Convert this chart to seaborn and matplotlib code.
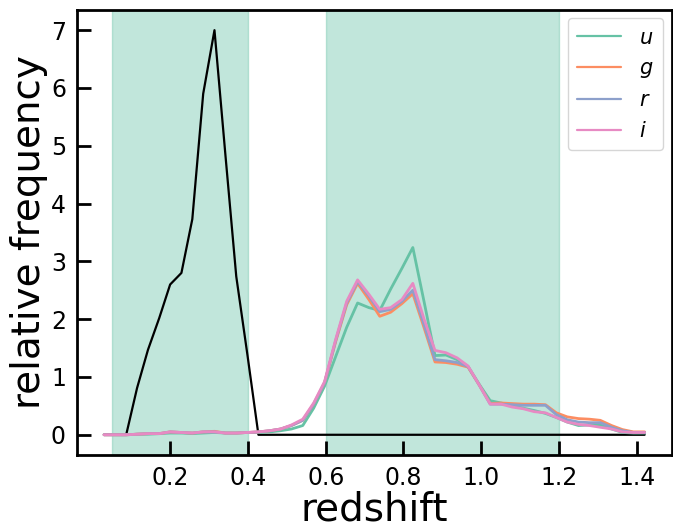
import numpy as np
import pandas as pd
import matplotlib
matplotlib.use("Agg")
import matplotlib.pyplot as plt
import seaborn as sns

# redshift bin centres
redshift = [0.030, 0.058, 0.087, 0.115, 0.143, 0.172, 0.200, 0.229, 0.257, 0.285,
            0.314, 0.342, 0.370, 0.399, 0.427, 0.456, 0.484, 0.512, 0.541, 0.569,
            0.597, 0.626, 0.654, 0.682, 0.711, 0.739, 0.767, 0.796, 0.824, 0.853,
            0.881, 0.909, 0.938, 0.966, 0.994, 1.023, 1.051, 1.079, 1.108, 1.136,
            1.165, 1.193, 1.221, 1.250, 1.278, 1.306, 1.335, 1.363, 1.391, 1.420]

# reference (black) distribution
ref = [0.0, 0.0, 0.0, 0.81, 1.47, 2.02, 2.60, 2.80, 3.73, 5.90,
       7.00, 4.85, 2.74, 1.37, 0.0, 0.0, 0.0, 0.0, 0.0, 0.0,
       0.0, 0.0, 0.0, 0.0, 0.0, 0.0, 0.0, 0.0, 0.0, 0.0,
       0.0, 0.0, 0.0, 0.0, 0.0, 0.0, 0.0, 0.0, 0.0, 0.0,
       0.0, 0.0, 0.0, 0.0, 0.0, 0.0, 0.0, 0.0, 0.0, 0.0]

u = [0.0, 0.0, 0.0, 0.01, 0.01, 0.02, 0.03, 0.03, 0.02, 0.03,
     0.04, 0.03, 0.03, 0.04, 0.04, 0.05, 0.07, 0.10, 0.16, 0.46,
     0.84, 1.36, 1.86, 2.28, 2.20, 2.15, 2.52, 2.88, 3.24, 2.30,
     1.37, 1.38, 1.30, 1.18, 0.88, 0.59, 0.55, 0.50, 0.46, 0.42,
     0.37, 0.30, 0.22, 0.16, 0.17, 0.17, 0.10, 0.04, 0.03, 0.03]

g = [0.0, 0.0, 0.0, 0.01, 0.02, 0.02, 0.05, 0.04, 0.03, 0.05,
     0.06, 0.03, 0.03, 0.04, 0.05, 0.07, 0.10, 0.16, 0.25, 0.53,
     0.90, 1.62, 2.25, 2.62, 2.34, 2.05, 2.12, 2.27, 2.44, 1.85,
     1.26, 1.25, 1.22, 1.17, 0.87, 0.54, 0.55, 0.54, 0.53, 0.53,
     0.52, 0.38, 0.31, 0.28, 0.27, 0.25, 0.16, 0.09, 0.05, 0.05]

r = [0.0, 0.0, 0.0, 0.01, 0.02, 0.02, 0.05, 0.04, 0.03, 0.05,
     0.05, 0.03, 0.03, 0.04, 0.05, 0.07, 0.10, 0.16, 0.25, 0.53,
     0.90, 1.64, 2.28, 2.65, 2.40, 2.13, 2.17, 2.31, 2.50, 1.90,
     1.30, 1.28, 1.25, 1.18, 0.87, 0.53, 0.53, 0.52, 0.51, 0.51,
     0.51, 0.35, 0.26, 0.22, 0.21, 0.21, 0.13, 0.07, 0.04, 0.04]

i_band = [0.0, 0.0, 0.0, 0.01, 0.02, 0.02, 0.05, 0.04, 0.03, 0.05,
          0.05, 0.03, 0.03, 0.04, 0.05, 0.07, 0.10, 0.17, 0.27, 0.55,
          0.92, 1.66, 2.31, 2.68, 2.43, 2.17, 2.20, 2.34, 2.62, 2.00,
          1.46, 1.42, 1.33, 1.19, 0.87, 0.53, 0.53, 0.48, 0.45, 0.40,
          0.38, 0.30, 0.22, 0.18, 0.16, 0.13, 0.10, 0.05, 0.04, 0.04]

bands = ["u", "g", "r", "i"]
band_values = [u, g, r, i_band]

# selected redshift windows
windows = [(0.05, 0.40), (0.60, 1.20)]
xticks = [0.2, 0.4, 0.6, 0.8, 1.0, 1.2, 1.4]
yticks = [0, 1, 2, 3, 4, 5, 6, 7]

sns.set_style("ticks")
plt.rcParams["font.family"] = ["DejaVu Sans"]
plt.rcParams["text.color"] = "black"
plt.rcParams["axes.labelcolor"] = "black"
plt.rcParams["xtick.color"] = "black"
plt.rcParams["ytick.color"] = "black"
palette = sns.color_palette("Set2", 4)

fig = plt.figure(figsize=(6.73, 5.23), dpi=100)
ax = fig.add_axes([0.1144, 0.130, 0.8836, 0.851])

for lo, hi in windows:
    ax.axvspan(lo, hi, color=palette[0], alpha=0.4, lw=1, zorder=0)

sns.lineplot(x=redshift, y=ref, color="black", lw=1.6, ax=ax, legend=False,
             estimator=None, sort=False)

long = pd.DataFrame({
    "redshift": np.tile(redshift, len(bands)),
    "freq": np.concatenate(band_values),
    "band": np.repeat(bands, len(redshift)),
})
sns.lineplot(data=long, x="redshift", y="freq", hue="band", palette=palette,
             hue_order=bands, lw=2, ax=ax, estimator=None, sort=False)

ax.set_xticks(xticks)
ax.set_yticks(yticks)
ax.set_xlabel("redshift", fontsize=28, labelpad=0)
ax.set_ylabel("relative frequency", fontsize=28, labelpad=2)
ax.tick_params(direction="in", length=10, width=2, labelsize=17, pad=8,
               colors="black")
for s in ax.spines.values():
    s.set_linewidth(2)
    s.set_color("black")

handles, labels = ax.get_legend_handles_labels()
leg = ax.legend(handles, [f"${b}$" for b in bands], loc="upper right", fontsize=15,
                handlelength=2.1, borderpad=0.45, labelspacing=0.5,
                handletextpad=0.9, borderaxespad=0.4, frameon=True)
for h in leg.get_lines():
    h.set_linewidth(1.6)

fig.savefig("out.png", dpi=100)
